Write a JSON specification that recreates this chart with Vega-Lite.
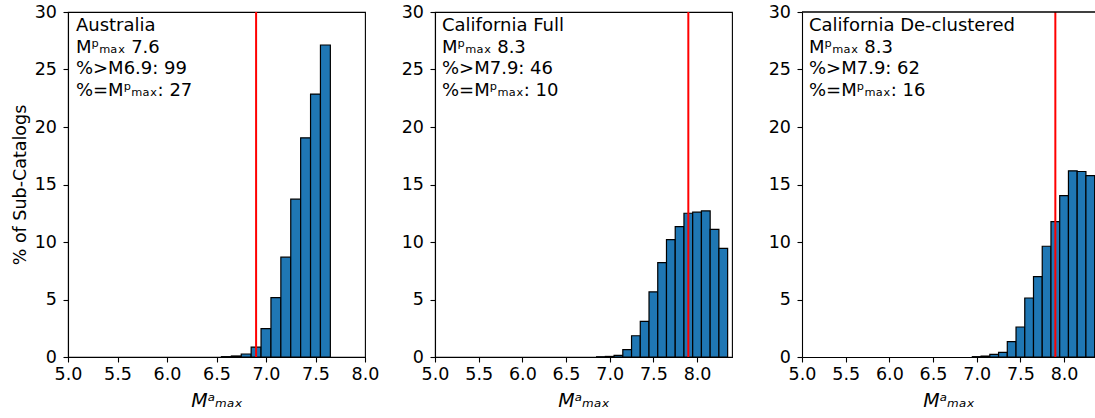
{
  "$schema": "https://vega.github.io/schema/vega-lite/v6.json",
  "padding": {"left": 10, "top": 2, "right": 0, "bottom": 0},
  "bounds": "flush",
  "spacing": 70,
  "config": {
    "font": "DejaVu Sans",
    "view": {"stroke": "#000000", "strokeWidth": 1.1},
    "axis": {
      "grid": false,
      "domain": true,
      "domainColor": "#000000",
      "domainWidth": 1.1,
      "tickColor": "#000000",
      "tickWidth": 1.1,
      "tickSize": 5,
      "labelColor": "#000000",
      "labelFontSize": 17.5,
      "titleColor": "#000000",
      "titleFontSize": 17.5,
      "titleFontWeight": "normal"
    },
    "axisX": {"labelPadding": 3.5, "titlePadding": 8, "titleFontSize": 19, "titleFontStyle": "italic", "labelFlush": false},
    "axisY": {"labelPadding": 6.5, "titlePadding": 5, "labelFlush": false}
  },
  "datasets": {
    "hist": [
      {"p": "A", "lo": 6.55, "hi": 6.65, "pct": 0.03},
      {"p": "A", "lo": 6.65, "hi": 6.75, "pct": 0.09},
      {"p": "A", "lo": 6.75, "hi": 6.85, "pct": 0.26},
      {"p": "A", "lo": 6.85, "hi": 6.95, "pct": 0.86},
      {"p": "A", "lo": 6.95, "hi": 7.05, "pct": 2.47},
      {"p": "A", "lo": 7.05, "hi": 7.15, "pct": 5.17},
      {"p": "A", "lo": 7.15, "hi": 7.25, "pct": 8.68},
      {"p": "A", "lo": 7.25, "hi": 7.35, "pct": 13.72},
      {"p": "A", "lo": 7.35, "hi": 7.45, "pct": 19.06},
      {"p": "A", "lo": 7.45, "hi": 7.55, "pct": 22.86},
      {"p": "A", "lo": 7.55, "hi": 7.65, "pct": 27.13},
      {"p": "B", "lo": 6.85, "hi": 6.95, "pct": 0.02},
      {"p": "B", "lo": 6.95, "hi": 7.05, "pct": 0.05},
      {"p": "B", "lo": 7.05, "hi": 7.15, "pct": 0.15},
      {"p": "B", "lo": 7.15, "hi": 7.25, "pct": 0.64},
      {"p": "B", "lo": 7.25, "hi": 7.35, "pct": 1.85},
      {"p": "B", "lo": 7.35, "hi": 7.45, "pct": 3.1},
      {"p": "B", "lo": 7.45, "hi": 7.55, "pct": 5.66},
      {"p": "B", "lo": 7.55, "hi": 7.65, "pct": 8.21},
      {"p": "B", "lo": 7.65, "hi": 7.75, "pct": 10.2},
      {"p": "B", "lo": 7.75, "hi": 7.85, "pct": 11.34},
      {"p": "B", "lo": 7.85, "hi": 7.95, "pct": 12.5},
      {"p": "B", "lo": 7.95, "hi": 8.05, "pct": 12.59},
      {"p": "B", "lo": 8.05, "hi": 8.15, "pct": 12.7},
      {"p": "B", "lo": 8.15, "hi": 8.25, "pct": 11.1},
      {"p": "B", "lo": 8.25, "hi": 8.35, "pct": 9.45},
      {"p": "C", "lo": 6.95, "hi": 7.05, "pct": 0.03},
      {"p": "C", "lo": 7.05, "hi": 7.15, "pct": 0.08},
      {"p": "C", "lo": 7.15, "hi": 7.25, "pct": 0.22},
      {"p": "C", "lo": 7.25, "hi": 7.35, "pct": 0.4},
      {"p": "C", "lo": 7.35, "hi": 7.45, "pct": 1.33},
      {"p": "C", "lo": 7.45, "hi": 7.55, "pct": 2.61},
      {"p": "C", "lo": 7.55, "hi": 7.65, "pct": 5.13},
      {"p": "C", "lo": 7.65, "hi": 7.75, "pct": 6.99},
      {"p": "C", "lo": 7.75, "hi": 7.85, "pct": 9.63},
      {"p": "C", "lo": 7.85, "hi": 7.95, "pct": 11.78},
      {"p": "C", "lo": 7.95, "hi": 8.05, "pct": 14.04},
      {"p": "C", "lo": 8.05, "hi": 8.15, "pct": 16.19},
      {"p": "C", "lo": 8.15, "hi": 8.25, "pct": 16.13},
      {"p": "C", "lo": 8.25, "hi": 8.35, "pct": 15.78}
    ],
    "one": [{}]
  },
  "hconcat": [
    {
      "width": 297,
      "height": 345,
      "layer": [
        {
          "data": {"name": "hist"},
          "transform": [{"filter": "datum.p === 'A'"}],
          "mark": {"type": "bar", "fill": "#1f77b4", "stroke": "#000000", "strokeWidth": 1.2, "clip": true},
          "encoding": {
            "x": {"field": "lo", "type": "quantitative", "scale": {"domain": [5, 8], "nice": false, "zero": false},
              "axis": {"values": [5, 5.5, 6, 6.5, 7, 7.5, 8], "format": ".1f", "title": "Mᵃₘₐₓ"}},
            "x2": {"field": "hi"},
            "y": {"field": "pct", "type": "quantitative", "scale": {"domain": [0, 30], "nice": false},
              "axis": {"values": [0, 5, 10, 15, 20, 25, 30], "format": "d", "title": "% of Sub-Catalogs"}},
            "y2": {"datum": 0}
          }
        },
        {
          "data": {"name": "one"},
          "mark": {"type": "rule", "color": "#ff0000", "strokeWidth": 2},
          "encoding": {"x": {"datum": 6.9}}
        },
        {
          "data": {"name": "one"},
          "mark": {"type": "text", "align": "left", "baseline": "top", "fontSize": 18, "lineHeight": 21.5, "color": "#000000"},
          "encoding": {
            "x": {"datum": 5.08},
            "y": {"datum": 29.55},
            "text": {"value": ["Australia", "Mᵖₘₐₓ 7.6", "%>M6.9: 99", "%=Mᵖₘₐₓ: 27"]}
          }
        }
      ]
    },
    {
      "width": 297,
      "height": 345,
      "layer": [
        {
          "data": {"name": "hist"},
          "transform": [{"filter": "datum.p === 'B'"}],
          "mark": {"type": "bar", "fill": "#1f77b4", "stroke": "#000000", "strokeWidth": 1.2, "clip": true},
          "encoding": {
            "x": {"field": "lo", "type": "quantitative", "scale": {"domain": [5, 8.4], "nice": false, "zero": false},
              "axis": {"values": [5, 5.5, 6, 6.5, 7, 7.5, 8], "format": ".1f", "title": "Mᵃₘₐₓ"}},
            "x2": {"field": "hi"},
            "y": {"field": "pct", "type": "quantitative", "scale": {"domain": [0, 30], "nice": false},
              "axis": {"values": [0, 5, 10, 15, 20, 25, 30], "format": "d", "title": null}},
            "y2": {"datum": 0}
          }
        },
        {
          "data": {"name": "one"},
          "mark": {"type": "rule", "color": "#ff0000", "strokeWidth": 2},
          "encoding": {"x": {"datum": 7.9}}
        },
        {
          "data": {"name": "one"},
          "mark": {"type": "text", "align": "left", "baseline": "top", "fontSize": 18, "lineHeight": 21.5, "color": "#000000"},
          "encoding": {
            "x": {"datum": 5.08},
            "y": {"datum": 29.55},
            "text": {"value": ["California Full", "Mᵖₘₐₓ 8.3", "%>M7.9: 46", "%=Mᵖₘₐₓ: 10"]}
          }
        }
      ]
    },
    {
      "width": 293,
      "height": 345,
      "view": {"stroke": null},
      "layer": [
        {
          "data": {"name": "hist"},
          "transform": [{"filter": "datum.p === 'C'"}],
          "mark": {"type": "bar", "fill": "#1f77b4", "stroke": "#000000", "strokeWidth": 1.2, "clip": true},
          "encoding": {
            "x": {"field": "lo", "type": "quantitative", "scale": {"domain": [5, 8.354], "nice": false, "zero": false},
              "axis": {"values": [5, 5.5, 6, 6.5, 7, 7.5, 8], "format": ".1f", "title": "Mᵃₘₐₓ"}},
            "x2": {"field": "hi"},
            "y": {"field": "pct", "type": "quantitative", "scale": {"domain": [0, 30], "nice": false},
              "axis": {"values": [0, 5, 10, 15, 20, 25, 30], "format": "d", "title": null}},
            "y2": {"datum": 0}
          }
        },
        {
          "data": {"name": "one"},
          "mark": {"type": "rule", "color": "#ff0000", "strokeWidth": 2},
          "encoding": {"x": {"datum": 7.9}}
        },
        {
          "data": {"name": "one"},
          "mark": {"type": "rule", "color": "#000000", "strokeWidth": 1.3},
          "encoding": {"y": {"datum": 30}}
        },
        {
          "data": {"name": "one"},
          "mark": {"type": "text", "align": "left", "baseline": "top", "fontSize": 18, "lineHeight": 21.5, "color": "#000000"},
          "encoding": {
            "x": {"datum": 5.08},
            "y": {"datum": 29.55},
            "text": {"value": ["California De-clustered", "Mᵖₘₐₓ 8.3", "%>M7.9: 62", "%=Mᵖₘₐₓ: 16"]}
          }
        }
      ]
    }
  ]
}
